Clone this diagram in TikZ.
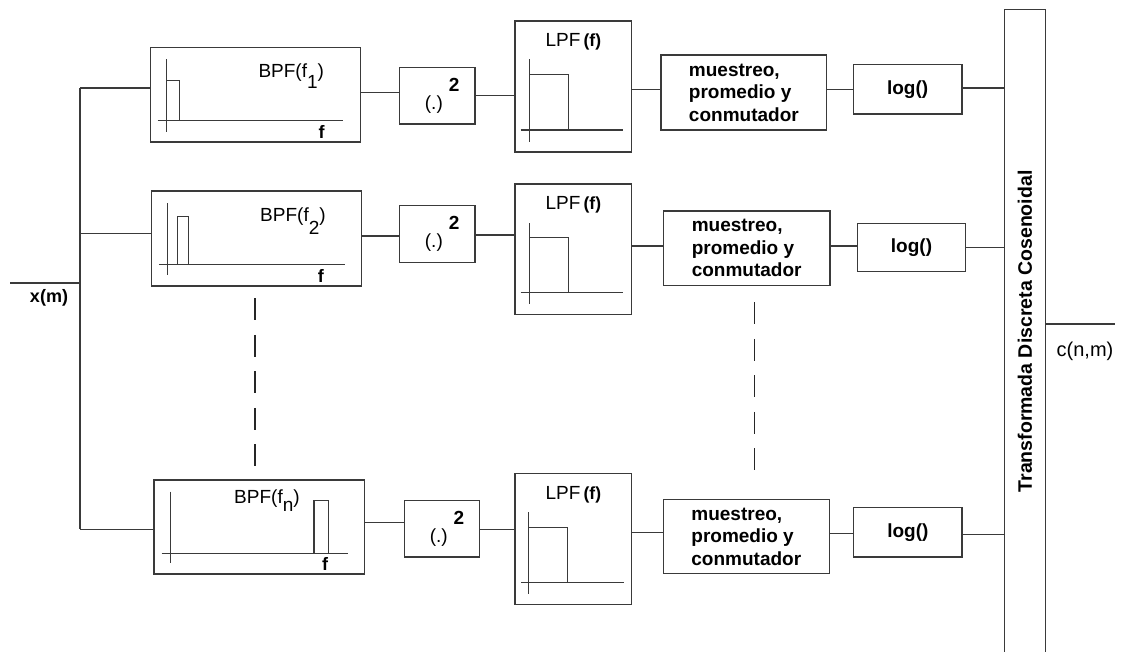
\documentclass[tikz,border=0pt]{standalone}
\usepackage{fontspec}
\setmainfont{Liberation Sans}
\definecolor{lc}{RGB}{58,58,58}
\tikzset{
  blk/.style={draw=lc, line width=1.15pt, rectangle, inner sep=0pt, outer sep=0pt, anchor=north west},
  wire/.style={draw=lc, line width=1.15pt},
  spec/.style={draw=lc, line width=1.1pt},
  dashline/.style={draw=black!85, line width=1.2pt, dash pattern=on 22pt off 14.5pt},
  bold19/.style={font=\fontsize{19}{22.5}\selectfont\bfseries},
  bold18/.style={font=\fontsize{18}{21}\selectfont\bfseries},
  reg18/.style={font=\fontsize{18}{21}\selectfont},
  reg19/.style={font=\fontsize{19}{22}\selectfont},
  reg20/.style={font=\fontsize{20}{23}\selectfont},
}
% \boxat[options]{name}{x,y of top-left corner}{width}{height}{text}
\newcommand\boxat[6][]{\node[blk,minimum width=#4pt,minimum height=#5pt,#1] (#2) at (#3) {#6};}
% horizontal wire between two blocks at a given height
\newcommand\linkh[3]{\draw[wire] (#1.east |- 0,#3) -- (#2.west |- 0,#3);}
\newcommand\sqtext{\hspace*{10pt}(.)\hspace{6pt}\raisebox{17.5pt}{\textbf{2}}}
\newcommand\lpftext{LPF\,{\fontsize{17.5}{20}\selectfont\bfseries(f)}}
\begin{document}
\begin{tikzpicture}[x=1pt,y=-1pt]
\useasboundingbox (0,0) rectangle (1121,652);

% ---------- input and distribution bus ----------
\coordinate (xin) at (10,283);
\coordinate (bus1) at (80,88);
\coordinate (bus2) at (80,233.3);
\coordinate (bus3) at (80,529.3);
\node[bold18] (xm) at (49,298) {x(m)};

% ---------- channel 1 ----------
\boxat{bpf1}{150.7,47.3}{210}{94.7}{}
\boxat[reg19]{sq1}{399.3,67.3}{75.7}{56.7}{\sqtext}
\boxat{lpf1}{515,21}{116.7}{131}{}
\boxat[bold19,align=left]{mue1}{661,55}{165.7}{75}{muestreo,\\promedio y\\conmutador}
\boxat[bold19]{log1}{853.3,64.7}{108.7}{49.3}{log()}

% ---------- channel 2 ----------
\boxat{bpf2}{151.7,191}{210}{95}{}
\boxat[reg19]{sq2}{399.3,205.7}{75.7}{56.6}{\sqtext}
\boxat{lpf2}{515,184}{116.7}{130.7}{}
\boxat[bold19,align=left]{mue2}{663.3,211}{166.7}{74.7}{muestreo,\\promedio y\\conmutador}
\boxat[bold19]{log2}{857.3,223.3}{108.4}{48.4}{log()}

% ---------- channel n ----------
\boxat{bpf3}{154,480}{210.3}{94}{}
\boxat[reg19]{sq3}{404.3,500.3}{75.4}{56.7}{\sqtext}
\boxat{lpf3}{515,473.3}{116.7}{131.4}{}
\boxat[bold19,align=left]{mue3}{663.3,499.3}{166}{74.4}{muestreo,\\promedio y\\conmutador}
\boxat[bold19]{log3}{853.7,507.7}{108.3}{49.3}{log()}

% ---------- cosine transform block (open at the bottom) ----------
\node[inner sep=0pt, outer sep=0pt, anchor=north west, minimum width=40.6pt, minimum height=642.3pt] (dct) at (1004.7,9.7) {};
\draw[wire] (dct.south west) -- (dct.north west) -- (dct.north east) -- (dct.south east);
\node[font=\fontsize{19.5}{22}\selectfont\bfseries, rotate=90] (dctt) at ([yshift=-0.6pt]dct.center) {Transformada Discreta Cosenoidal};
\coordinate (cout) at (1115,324);
\node[reg20] (cnm) at (1085,351.5) {c(n,m)};

% ---------- wiring ----------
\draw[wire] (bus1) -- (bus3);
\draw[wire] (xin) -- (xin -| bus1);
\draw[wire] (bus1) -- (bus1 -| bpf1.west);
\draw[wire] (bus2) -- (bus2 -| bpf2.west);
\draw[wire] (bus3) -- (bus3 -| bpf3.west);

\linkh{bpf1}{sq1}{92.7}
\linkh{sq1}{lpf1}{95.3}
\linkh{lpf1}{mue1}{89.3}
\linkh{mue1}{log1}{89.3}
\linkh{log1}{dct}{88}

\linkh{bpf2}{sq2}{236}
\linkh{sq2}{lpf2}{235}
\linkh{lpf2}{mue2}{246}
\linkh{mue2}{log2}{246}
\linkh{log2}{dct}{247.7}

\linkh{bpf3}{sq3}{522.3}
\linkh{sq3}{lpf3}{529.3}
\linkh{lpf3}{mue3}{532.3}
\linkh{mue3}{log3}{533.3}
\linkh{log3}{dct}{534.7}

\draw[wire] (dct.east |- cout) -- (cout);

% ---------- band-pass sketches ----------
\draw[spec] (166.7,59.3) -- (166.7,131.7);
\draw[spec] (157.7,120.7) -- (343.3,120.7);
\draw[spec] (166.7,80.7) rectangle (179.3,120.7);
\node[reg19, anchor=base west] (bpf1t) at (255,77.7) {BPF(f\raisebox{-11pt}{1})};
\node[bold18] (bpf1f) at (321.5,132) {f};

\draw[spec] (167.7,203.3) -- (167.7,275);
\draw[spec] (159,264.3) -- (345,264.3);
\draw[spec] (177.7,216.7) rectangle (188.7,264.3);
\node[reg19, anchor=base west] (bpf2t) at (256.7,221.7) {BPF(f\raisebox{-13pt}{2})};
\node[bold18] (bpf2f) at (320.8,276) {f};

\draw[spec] (170.7,491.7) -- (170.7,563.3);
\draw[spec] (161.7,553.3) -- (347.7,553.3);
\draw[spec] (314,500.7) rectangle (328.7,553.3);
\node[reg19, anchor=base west] (bpf3t) at (230.7,503.3) {BPF(f\raisebox{-8pt}{n})};
\node[bold18] (bpf3f) at (325,564) {f};

% ---------- low-pass sketches ----------
\node[reg19] (lpf1t) at ([yshift=-21pt]lpf1.north) {\lpftext};
\draw[spec] (529.3,59.3) -- (529.3,141.7);
\draw[spec] (520.7,130) -- (623.3,130);
\draw[spec] (529.3,74.3) -- (568.3,74.3) -- (568.3,130);

\node[reg19] (lpf2t) at ([yshift=-21pt]lpf2.north) {\lpftext};
\draw[spec] (529.3,223.3) -- (529.3,304.4);
\draw[spec] (520.7,292.7) -- (623.3,292.7);
\draw[spec] (529.3,237.7) -- (568.3,237.7) -- (568.3,292.7);

\node[reg19] (lpf3t) at ([yshift=-21pt]lpf3.north) {\lpftext};
\draw[spec] (528.7,512.3) -- (528.7,594.3);
\draw[spec] (521,582.7) -- (623.7,582.7);
\draw[spec] (528.7,527.3) -- (567.7,527.3) -- (567.7,582.7);

% ---------- continuation marks between channel 2 and channel n ----------
\coordinate (d1a) at (255,298.3);
\coordinate (d1b) at (255,467);
\coordinate (d2a) at (754.3,302.3);
\coordinate (d2b) at (754.3,470);
\draw[dashline] (d1a) -- (d1b);
\draw[dashline] (d2a) -- (d2b);
\end{tikzpicture}
\end{document}
